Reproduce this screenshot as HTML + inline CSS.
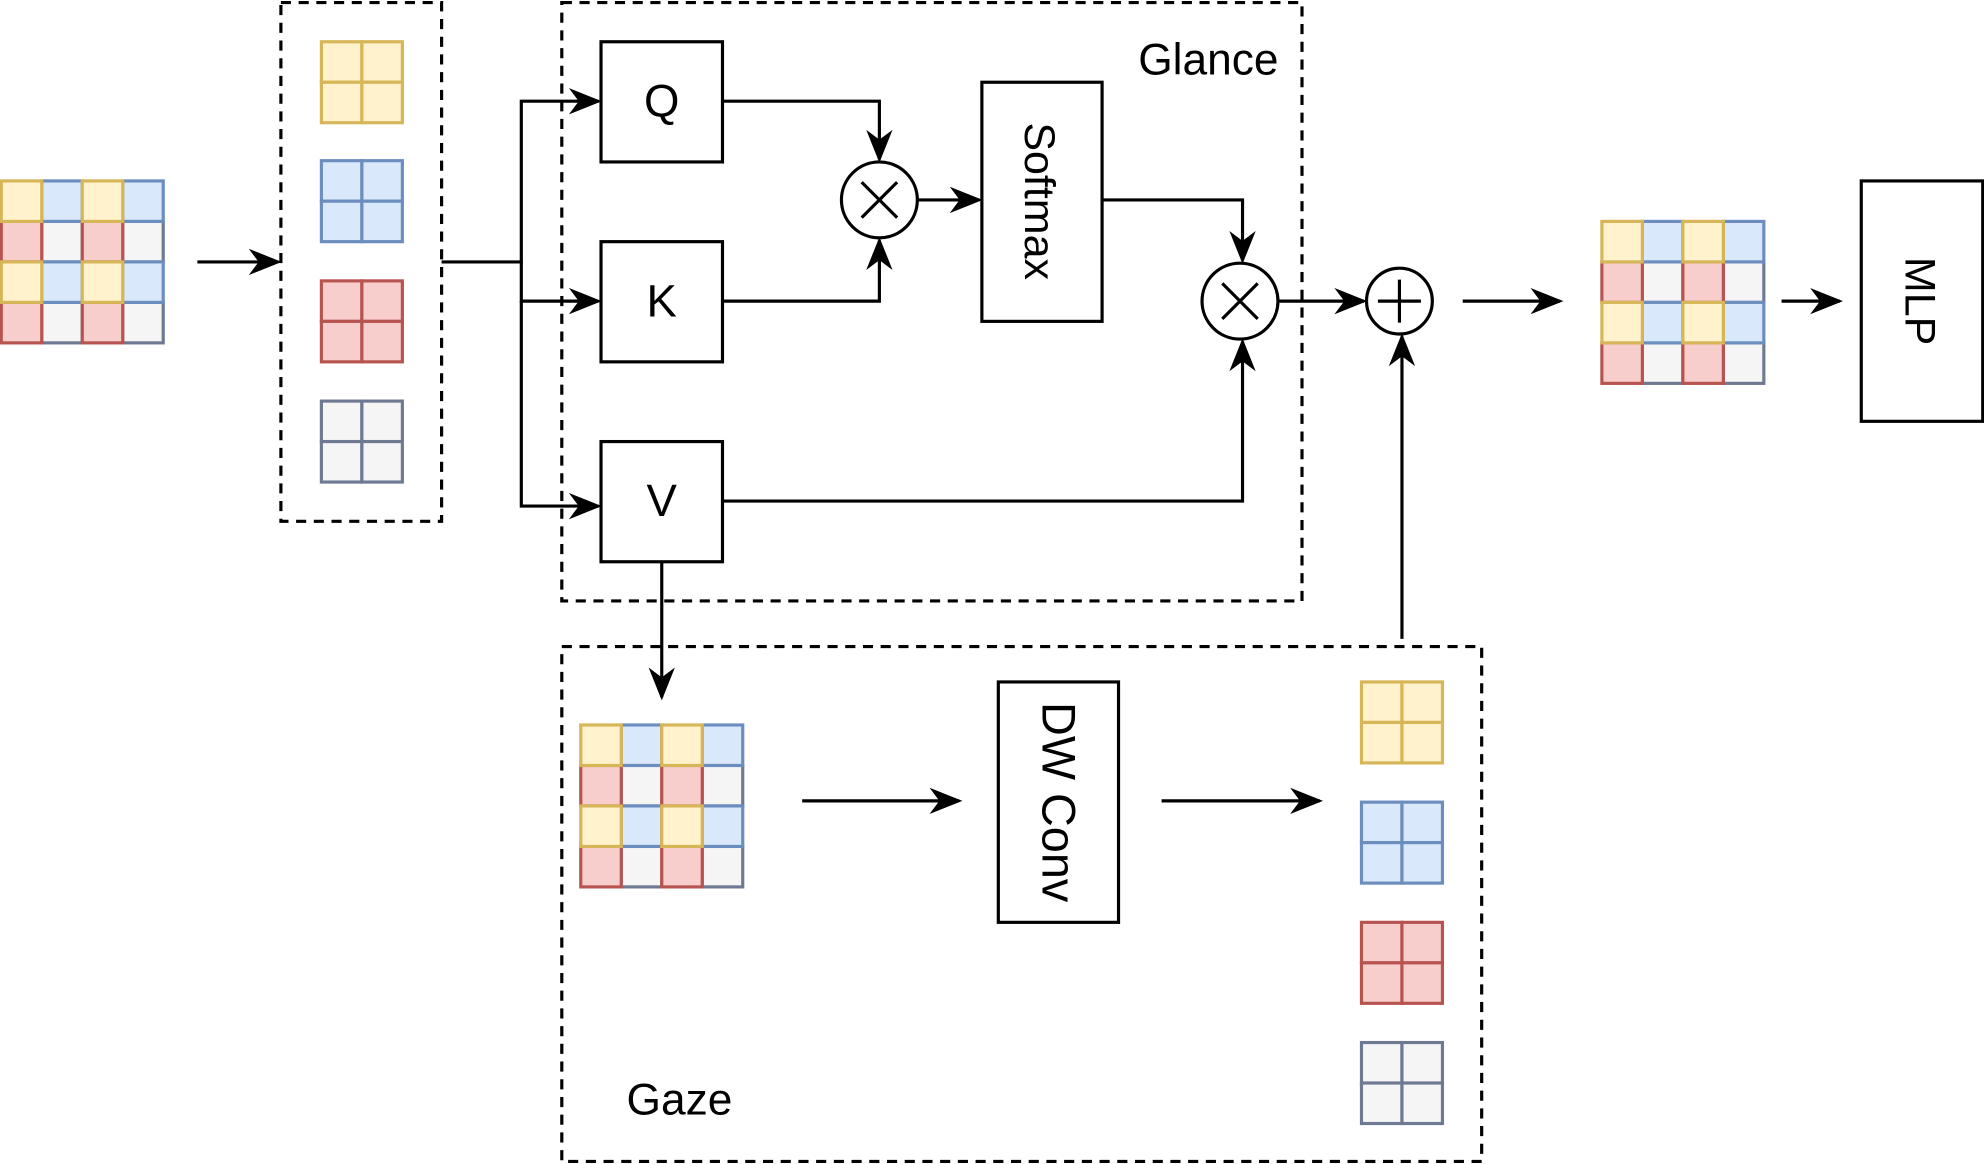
<!DOCTYPE html>
<html><head><style>html,body{margin:0;padding:0;background:#fff}svg{display:block}</style></head><body>
<svg width="1984" height="1164" viewBox="0 0 1568 920" preserveAspectRatio="none" xmlns="http://www.w3.org/2000/svg" font-family="Liberation Sans, sans-serif">
<defs>
<marker id="b" viewBox="0 0 10 10" refX="9" refY="5" markerWidth="26" markerHeight="26" markerUnits="userSpaceOnUse" orient="auto"><path d="M0,1 L10,5 L0,9 L3,5 Z" fill="#000"/></marker>
<g id="Y"><rect width="32" height="32" fill="#fff2cc" stroke="#d6b656" stroke-width="2.5"/></g>
<g id="B"><rect width="32" height="32" fill="#dae8fc" stroke="#6c8ebf" stroke-width="2.5"/></g>
<g id="R"><rect width="32" height="32" fill="#f8cecc" stroke="#b85450" stroke-width="2.5"/></g>
<g id="G"><rect width="32" height="32" fill="#f5f5f5" stroke="#6e7a92" stroke-width="2.5"/></g>
<g id="big">
<use href="#G" x="32" y="32"/><use href="#G" x="96" y="32"/><use href="#G" x="32" y="96"/><use href="#G" x="96" y="96"/>
<use href="#B" x="32" y="0"/><use href="#B" x="96" y="0"/><use href="#B" x="32" y="64"/><use href="#B" x="96" y="64"/>
<use href="#R" x="0" y="32"/><use href="#R" x="64" y="32"/><use href="#R" x="0" y="96"/><use href="#R" x="64" y="96"/>
<use href="#Y" x="0" y="0"/><use href="#Y" x="64" y="0"/><use href="#Y" x="0" y="64"/><use href="#Y" x="64" y="64"/>
</g>
<g id="sY"><use href="#Y"/><use href="#Y" x="32"/><use href="#Y" y="32"/><use href="#Y" x="32" y="32"/></g>
<g id="sB"><use href="#B"/><use href="#B" x="32"/><use href="#B" y="32"/><use href="#B" x="32" y="32"/></g>
<g id="sR"><use href="#R"/><use href="#R" x="32"/><use href="#R" y="32"/><use href="#R" x="32" y="32"/></g>
<g id="sG"><use href="#G"/><use href="#G" x="32"/><use href="#G" y="32"/><use href="#G" x="32" y="32"/></g>
</defs>
<use href="#big" x="1" y="143"/>
<use href="#big" x="1266" y="175"/>
<use href="#big" x="459" y="573"/>
<use href="#sY" x="254" y="33"/><use href="#sB" x="254" y="127"/><use href="#sR" x="254" y="222"/><use href="#sG" x="254" y="317"/>
<use href="#sY" x="1076" y="539"/><use href="#sB" x="1076" y="634"/><use href="#sR" x="1076" y="729"/><use href="#sG" x="1076" y="824"/>
<g fill="none" stroke="#000" stroke-width="2.5" stroke-dasharray="8,6">
<rect x="222" y="2" width="127" height="410"/>
<rect x="444" y="2" width="585" height="473"/>
<rect x="444" y="511" width="727" height="407"/>
</g>
<g fill="#fff" stroke="#000" stroke-width="2.5">
<rect x="475" y="33" width="96" height="95"/>
<rect x="475" y="191" width="96" height="95"/>
<rect x="475" y="349" width="96" height="95"/>
<rect x="776" y="65" width="95" height="189"/>
<rect x="789" y="539" width="95" height="190"/>
<rect x="1471" y="143" width="96" height="190"/>
<circle cx="695" cy="158" r="30"/>
<circle cx="980" cy="238" r="30"/>
<circle cx="1106" cy="238" r="26"/>
</g>
<g stroke="#000" stroke-width="2.5" fill="none">
<path d="M681,144 L709,172 M709,144 L681,172"/>
<path d="M966,224 L994,252 M994,224 L966,252"/>
<path d="M1106,221 V255 M1089,238 H1123"/>
</g>
<g stroke="#000" stroke-width="2.5" fill="none" marker-end="url(#b)">
<path d="M156,207 H220"/>
<path d="M349,207 H412 V80 H473"/>
<path d="M412,207 V238 H473"/>
<path d="M412,238 V400 H473"/>
<path d="M571,80 H695 V126"/>
<path d="M571,238 H695 V190"/>
<path d="M725,158 H774"/>
<path d="M871,158 H982 V206"/>
<path d="M571,396 H982 V270"/>
<path d="M1010,238 H1078"/>
<path d="M1156,238 H1233"/>
<path d="M1408,238 H1454"/>
<path d="M1108,505 V266"/>
<path d="M523,444 V551"/>
<path d="M634,633 H758"/>
<path d="M918,633 H1043"/>
</g>
<g font-size="36" fill="#000" text-anchor="middle">
<text x="523" y="92">Q</text>
<text x="523" y="250">K</text>
<text x="523" y="408">V</text>
<text x="955" y="59" font-size="35">Glance</text>
<text x="537" y="881" font-size="35">Gaze</text>
<text transform="translate(810,159) rotate(90)" font-size="34">Softmax</text>
<text transform="translate(824,634) rotate(90)" font-size="37">DW Conv</text>
<text transform="translate(1506,238) rotate(90)" font-size="34">MLP</text>
</g>
</svg>
</body></html>
